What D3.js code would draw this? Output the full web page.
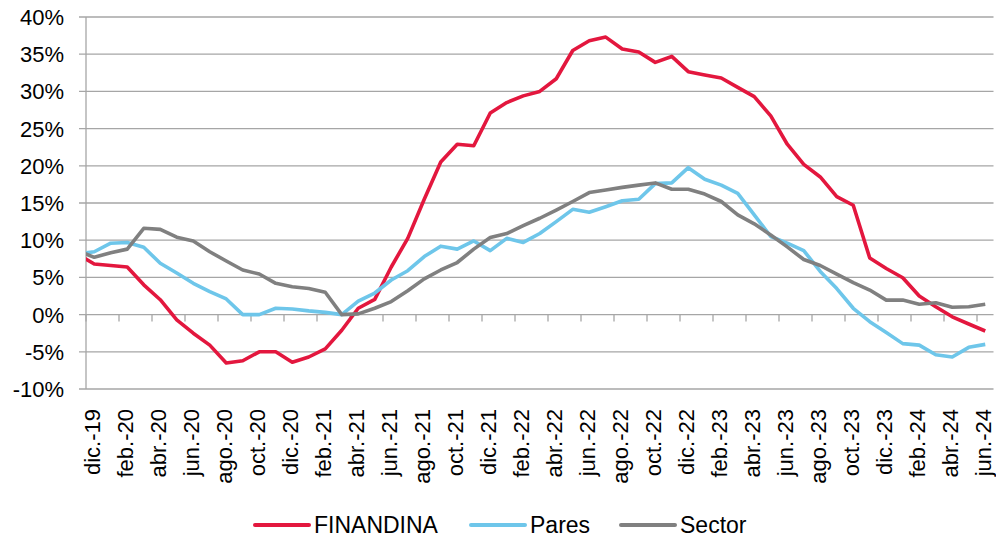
<!DOCTYPE html>
<html><head><meta charset="utf-8">
<script src="https://cdn.jsdelivr.net/npm/d3@7"></script>
<style>
body{margin:0;background:#fff}
svg{font-family:"Liberation Sans",Arial,sans-serif}
</style>
</head><body>
<svg id="c" width="996" height="540"></svg>
<script>
// first entry (nov.-19) lies just left of the plot area and is clipped
const months = ["nov.-19",
 "dic.-19","ene.-20","feb.-20","mar.-20","abr.-20","may.-20","jun.-20","jul.-20","ago.-20","sep.-20","oct.-20","nov.-20",
 "dic.-20","ene.-21","feb.-21","mar.-21","abr.-21","may.-21","jun.-21","jul.-21","ago.-21","sep.-21","oct.-21","nov.-21",
 "dic.-21","ene.-22","feb.-22","mar.-22","abr.-22","may.-22","jun.-22","jul.-22","ago.-22","sep.-22","oct.-22","nov.-22",
 "dic.-22","ene.-23","feb.-23","mar.-23","abr.-23","may.-23","jun.-23","jul.-23","ago.-23","sep.-23","oct.-23","nov.-23",
 "dic.-23","ene.-24","feb.-24","mar.-24","abr.-24","may.-24","jun.-24"];
const finandina = [8.1,
 6.8,6.6,6.4,4.0,2.0,-0.7,-2.5,-4.1,-6.5,-6.2,-5.0,-5.0,
 -6.4,-5.7,-4.6,-2.1,0.85,2.05,6.4,10.25,15.5,20.5,22.9,22.7,
 27.1,28.5,29.4,30.0,31.7,35.5,36.8,37.3,35.7,35.3,33.9,34.7,
 32.65,32.2,31.8,30.55,29.3,26.7,22.9,20.2,18.5,15.85,14.7,7.6,
 6.2,4.96,2.5,1.06,-0.3,-1.26,-2.2];
const pares = [8.15,
 8.45,9.6,9.7,9.05,6.9,5.6,4.2,3.1,2.1,0.0,0.0,0.85,
 0.75,0.5,0.3,0.0,1.8,2.9,4.65,5.9,7.8,9.2,8.8,9.9,
 8.6,10.25,9.7,10.9,12.5,14.15,13.75,14.5,15.3,15.5,17.6,17.7,
 19.75,18.2,17.4,16.3,13.4,10.5,9.6,8.6,5.8,3.5,0.85,-0.95,
 -2.4,-3.9,-4.1,-5.4,-5.7,-4.4,-4.0];
const sector = [8.6,
 7.7,8.3,8.8,11.6,11.45,10.4,9.9,8.45,7.2,6.0,5.45,4.2,
 3.75,3.5,3.0,0.0,0.1,0.85,1.75,3.2,4.8,6.0,7.0,8.8,
 10.35,10.9,11.95,12.95,14.05,15.2,16.4,16.75,17.1,17.4,17.7,16.85,
 16.85,16.2,15.2,13.4,12.2,10.7,9.1,7.4,6.6,5.45,4.3,3.3,
 1.95,1.95,1.4,1.6,0.98,1.06,1.4];
const yTicks = [-10,-5,0,5,10,15,20,25,30,35,40];
const seriesNames = ["FINANDINA","Pares","Sector"];
const seriesColors = ["#E3173E","#6EC6EA","#808080"];

const svg = d3.select("#c");
const L = 86, R = 993.5, T = 17, B = 389;
const bw = (R - L) / (months.length - 1);
const x = d3.scaleBand().domain(months).range([L - bw, R]).paddingInner(0).paddingOuter(0);
const y = d3.scaleLinear().domain([-10, 40]).range([B, T]);
const gridColor = "#a6a6a6";

// gridlines
svg.append("g").selectAll("line").data(yTicks).join("line")
  .attr("x1", L - 7).attr("x2", R)
  .attr("y1", d => y(d)).attr("y2", d => y(d))
  .attr("stroke", gridColor).attr("stroke-width", 1.3);
// y axis line
svg.append("line").attr("x1", L).attr("x2", L).attr("y1", T).attr("y2", B)
  .attr("stroke", gridColor).attr("stroke-width", 1.3);
// y labels
svg.append("g").selectAll("text").data(yTicks).join("text")
  .attr("x", 64).attr("y", d => y(d)).attr("dy", "0.36em")
  .attr("text-anchor", "end").attr("font-size", 22).attr("fill", "#000")
  .text(d => d + "%");

// x tick marks on 0% line, at the start of each labelled month
const labelled = months.filter((m, i) => i >= 1 && (i - 1) % 2 === 0);
svg.append("g").selectAll("line").data(labelled).join("line")
  .attr("x1", d => x(d)).attr("x2", d => x(d))
  .attr("y1", y(0)).attr("y2", y(0) + 7)
  .attr("stroke", gridColor).attr("stroke-width", 1.3);

// x labels
svg.append("g").selectAll("text").data(labelled).join("text")
  .attr("transform", d => `translate(${x(d) + x.bandwidth()/2},${409}) rotate(-90)`)
  .attr("dy", "0.25em").attr("text-anchor", "end")
  .attr("font-size", 22).attr("fill", "#000")
  .text(d => d);

// clip
svg.append("clipPath").attr("id", "clip").append("rect")
  .attr("x", L).attr("y", 0).attr("width", R - L).attr("height", 540);

const line = d3.line().x((d, i) => x(months[i]) + x.bandwidth()/2).y(d => y(d));
const data = [finandina, pares, sector];
svg.append("g").attr("clip-path", "url(#clip)").selectAll("path").data(data).join("path")
  .attr("d", d => line(d))
  .attr("fill", "none")
  .attr("stroke", (d, i) => seriesColors[i])
  .attr("stroke-width", 3.6)
  .attr("stroke-linejoin", "round");

// legend
const legX = [255, 471, 621];
const leg = svg.append("g").selectAll("g").data(seriesNames).join("g")
  .attr("transform", (d, i) => `translate(${legX[i]},525)`);
leg.append("line").attr("x1", 0).attr("x2", 54).attr("y1", 0).attr("y2", 0)
  .attr("stroke", (d, i) => seriesColors[i]).attr("stroke-width", 4).attr("stroke-linecap", "round");
leg.append("text").attr("x", 59).attr("dy", "0.36em").attr("font-size", 23).attr("fill", "#000")
  .text(d => d);
</script>
</body></html>
